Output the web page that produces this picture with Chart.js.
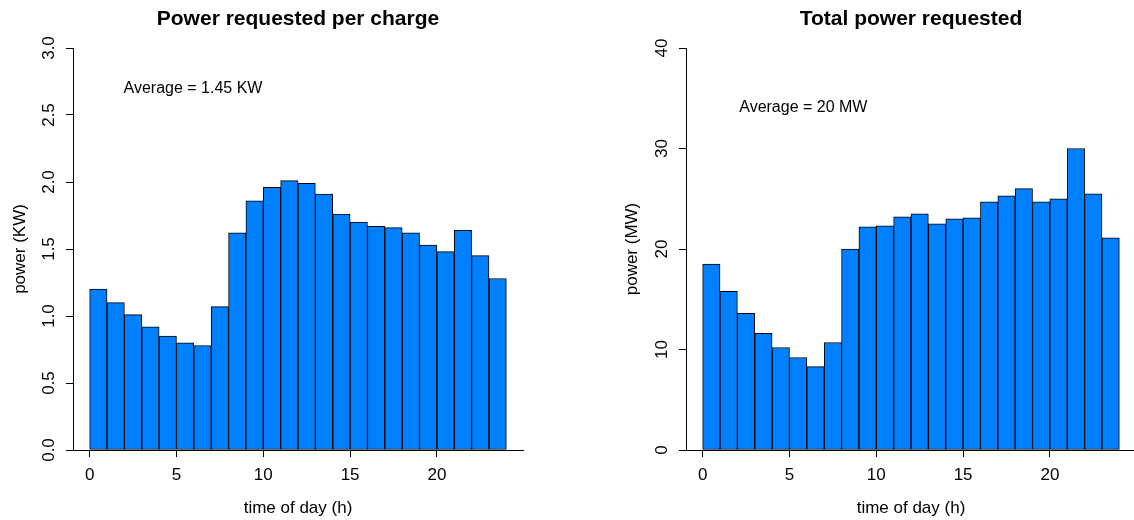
<!DOCTYPE html>
<html>
<head>
<meta charset="utf-8">
<script src="https://cdn.jsdelivr.net/npm/chart.js@4/dist/chart.umd.min.js"></script>
<style>
  html, body { margin: 0; padding: 0; background: #fff; overflow: hidden; width: 1134px; height: 520px; }
  .panel { position: absolute; top: 0; height: 520px; }
</style>
</head>
<body>
<div class="panel" style="left:0;width:567px"><canvas id="perCharge" width="567" height="520"></canvas></div>
<div class="panel" style="left:567px;width:600px"><canvas id="total" width="600" height="520"></canvas></div>
<script>
// Hourly bins (start of each hour)
const hourBins = [0, 1, 2, 3, 4, 5, 6, 7, 8, 9, 10, 11, 12, 13, 14, 15, 16, 17, 18, 19, 20, 21, 22, 23];

// Mean power requested per charge, kW
const perChargeKW = [1.20, 1.10, 1.01, 0.92, 0.85, 0.80, 0.78, 1.07, 1.62, 1.86, 1.96, 2.01,
                     1.99, 1.91, 1.76, 1.70, 1.67, 1.66, 1.62, 1.53, 1.48, 1.64, 1.45, 1.28];

// Total power requested, MW
const totalMW = [18.5, 15.8, 13.6, 11.6, 10.2, 9.2, 8.3, 10.7, 20.0, 22.2, 22.3, 23.2,
                 23.5, 22.5, 23.0, 23.1, 24.7, 25.3, 26.0, 24.7, 25.0, 30.0, 25.5, 21.1];

// Axis ticks
const hourTicks = [0, 5, 10, 15, 20];
const kwTicks = [0, 0.5, 1.0, 1.5, 2.0, 2.5, 3.0];
const kwTickLabels = ['0.0', '0.5', '1.0', '1.5', '2.0', '2.5', '3.0'];
const mwTicks = [0, 10, 20, 30, 40];
const mwTickLabels = ['0', '10', '20', '30', '40'];

const FONT = '"Liberation Sans", Arial, Helvetica, sans-serif';
const BAR_FILL = '#0080FF';

function histogramPanel(canvasId, opts) {
  const labelsPlugin = {
    id: 'rStyleText',
    afterDraw(chart) {
      const ctx = chart.ctx;
      const xs = chart.scales.x, ys = chart.scales.y;
      const area = chart.chartArea;
      const cx = (area.left + area.right) / 2;
      ctx.save();
      ctx.fillStyle = '#000';

      // main title
      ctx.font = 'bold 21px ' + FONT;
      ctx.textAlign = 'center';
      ctx.textBaseline = 'alphabetic';
      ctx.fillText(opts.title, cx, 25);

      // x tick labels
      ctx.font = '17px ' + FONT;
      hourTicks.forEach(v => ctx.fillText(String(v), xs.getPixelForValue(v), 480));

      // x axis title
      ctx.fillText('time of day (h)', cx, 513);

      // y tick labels, rotated (R style, las = 0)
      opts.yTicks.forEach((v, i) => {
        ctx.save();
        ctx.translate(area.left - 19, ys.getPixelForValue(v));
        ctx.rotate(-Math.PI / 2);
        ctx.fillText(opts.yTickLabels[i], 0, 0);
        ctx.restore();
      });

      // y axis title
      ctx.save();
      ctx.translate(area.left - opts.yTitleOffset, (area.top + area.bottom) / 2);
      ctx.rotate(-Math.PI / 2);
      ctx.fillText(opts.yTitle, 0, 0);
      ctx.restore();

      // average annotation
      ctx.font = '16px ' + FONT;
      ctx.textBaseline = 'middle';
      ctx.fillText(opts.note, xs.getPixelForValue(opts.noteAt[0]), ys.getPixelForValue(opts.noteAt[1]));

      ctx.restore();
    }
  };

  const gridStyle = {
    display: true,
    drawOnChartArea: false,
    drawTicks: true,
    tickLength: 7,
    color: '#000',
    lineWidth: 1,
    offset: false
  };

  return new Chart(document.getElementById(canvasId), {
    type: 'bar',
    data: {
      datasets: [{
        data: hourBins.map((h, i) => ({ x: h + 0.5, y: opts.values[i] })),
        backgroundColor: BAR_FILL,
        borderColor: '#000',
        borderWidth: 1,
        borderSkipped: false,
        barPercentage: 1,
        categoryPercentage: 1
      }]
    },
    options: {
      responsive: false,
      animation: false,
      events: [],
      layout: { padding: { left: 0, top: 48, right: opts.padRight, bottom: 0 } },
      plugins: { legend: { display: false }, tooltip: { enabled: false }, title: { display: false } },
      scales: {
        x: {
          type: 'linear',
          min: -0.96,
          max: 24.96,
          offset: false,
          grid: gridStyle,
          border: { display: true, color: '#000', width: 1 },
          ticks: { display: false },
          afterBuildTicks: s => { s.ticks = hourTicks.map(v => ({ value: v })); },
          afterFit: s => { s.height = 70; }
        },
        y: {
          type: 'linear',
          min: opts.yTicks[0],
          max: opts.yTicks[opts.yTicks.length - 1],
          grid: gridStyle,
          border: { display: true, color: '#000', width: 1 },
          ticks: { display: false },
          afterBuildTicks: s => { s.ticks = opts.yTicks.map(v => ({ value: v })); },
          afterFit: s => { s.width = opts.yWidth; }
        }
      }
    },
    plugins: [labelsPlugin]
  });
}

histogramPanel('perCharge', {
  values: perChargeKW,
  title: 'Power requested per charge',
  yTitle: 'power (KW)',
  yTicks: kwTicks,
  yTickLabels: kwTickLabels,
  note: 'Average = 1.45 KW',
  noteAt: [5.95, 2.70],
  yWidth: 73,
  padRight: 44,
  yTitleOffset: 48
});

histogramPanel('total', {
  values: totalMW,
  title: 'Total power requested',
  yTitle: 'power (MW)',
  yTicks: mwTicks,
  yTickLabels: mwTickLabels,
  note: 'Average = 20 MW',
  noteAt: [5.8, 34.1],
  yWidth: 119,
  padRight: 31,
  yTitleOffset: 49
});
</script>
</body>
</html>
